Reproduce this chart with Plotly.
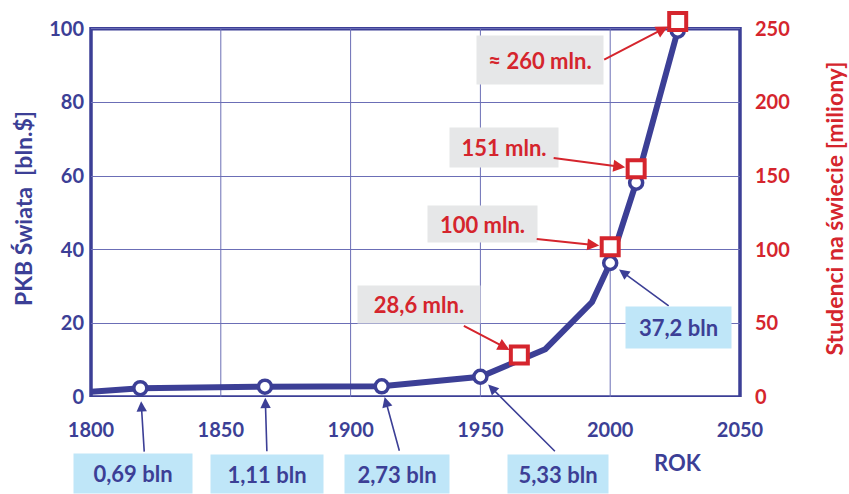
import plotly.graph_objects as go

# ---- data ----
gdp_years = [1800, 1819, 1867, 1912, 1950, 1975, 1993, 2000, 2010, 2026]
gdp_values = [1.4, 2.4, 2.8, 2.9, 5.5, 13.0, 25.8, 36.4, 58.2, 99.5]
gdp_circle = [False, True, True, True, True, False, False, True, True, True]

stud_years = [1965, 2000, 2010, 2026]
stud_values = [28.5, 102, 155, 255]
stud_labels = ["28,6 mln.", "100 mln.", "151 mln.", "\u2248 260 mln."]

pop_years = [1819, 1867, 1912, 1950, 2000]
pop_gdp = [2.4, 2.8, 2.9, 5.5, 36.4]
pop_labels = ["0,69 bln", "1,11 bln", "2,73 bln", "5,33 bln", "37,2 bln"]

x_ticks = [1800, 1850, 1900, 1950, 2000, 2050]
y_ticks = [0, 20, 40, 60, 80, 100]
y2_ticks = [0, 50, 100, 150, 200, 250]

BLUE = "#3c3f96"
RED = "#d5252d"
GRID = "#6b6eb6"
GRAYBOX = "#e6e7e8"
BLUEBOX = "#bfe6f8"
FONT = "Lato"

# axis ranges: a little head-room above the frame so the top square is drawn
Y_MAX = 102.4
Y2_MAX = 256

fig = go.Figure()
fig.add_trace(go.Scatter(x=gdp_years, y=gdp_values, mode="lines",
                         line=dict(color=BLUE, width=6), hoverinfo="skip",
                         showlegend=False, cliponaxis=False))
cx = [x for x, c in zip(gdp_years, gdp_circle) if c]
cy = [y for y, c in zip(gdp_values, gdp_circle) if c]
fig.add_trace(go.Scatter(x=cx, y=cy, mode="markers",
                         marker=dict(symbol="circle", size=13, color="white",
                                     line=dict(color=BLUE, width=3.5)),
                         showlegend=False, cliponaxis=False))
fig.add_trace(go.Scatter(x=stud_years, y=stud_values, mode="markers", yaxis="y2",
                         marker=dict(symbol="square", size=17, color="white",
                                     line=dict(color=RED, width=4)),
                         showlegend=False, cliponaxis=False))

# plot-area pixel geometry (margins)
L, R, T, B = 91, 109, 20, 97
W, H = 849, 494
PW, PH = W - L - R, H - T - B


def px2paper(px, py):
    return (px - L) / PW, (H - B - py) / PH


annotations = []

# red (students) boxes and arrows
red_boxes = [(419, 304.5, 122, 37), (482.5, 224, 109, 36), (504, 147.5, 108, 39), (540, 60, 126, 48)]
red_tails = [(-57, -30), (-75, -8), (-84, -11), (-75, 39)]
for (bx, by, bw, bh), lab, yr, v, (ax, ay) in zip(red_boxes, stud_labels, stud_years, stud_values, red_tails):
    xp, yp = px2paper(bx, by)
    annotations.append(dict(xref="paper", yref="paper", x=xp, y=yp, text=lab, showarrow=False,
                            bgcolor=GRAYBOX, width=bw, height=bh, borderpad=0,
                            xanchor="center", yanchor="middle",
                            font=dict(family=FONT, size=22, color=RED, weight="bold")))
    annotations.append(dict(xref="x", yref="y2", x=yr, y=v, text="", showarrow=True,
                            ax=ax, ay=ay, axref="pixel", ayref="pixel",
                            arrowhead=2, arrowsize=1.2, arrowwidth=2, arrowcolor=RED, standoff=11))

# blue (population) boxes and arrows
blue_boxes = [(133, 473.5, 118, 39), (267, 474, 112, 38), (397, 474, 104, 38), (558, 474, 100, 38), (678.5, 327.5, 105, 41)]
blue_tails = [(4, 65), (2, 66), (18, 66), (76, 76), (60, 44)]
blue_stand = [13, 11, 11, 11, 11]
for (bx, by, bw, bh), lab, yr, v, (ax, ay), so in zip(blue_boxes, pop_labels, pop_years, pop_gdp, blue_tails, blue_stand):
    xp, yp = px2paper(bx, by)
    annotations.append(dict(xref="x", yref="y", x=yr, y=v, text="", showarrow=True,
                            ax=ax, ay=ay, axref="pixel", ayref="pixel",
                            arrowhead=2, arrowsize=1.3, arrowwidth=1.6, arrowcolor=BLUE, standoff=so))
    annotations.append(dict(xref="paper", yref="paper", x=xp, y=yp, text=lab, showarrow=False,
                            bgcolor=BLUEBOX, width=bw, height=bh, borderpad=0,
                            xanchor="center", yanchor="middle",
                            font=dict(family=FONT, size=22, color=BLUE, weight="bold")))

xp, yp = px2paper(678, 462)
annotations.append(dict(xref="paper", yref="paper", x=xp, y=yp, text="ROK", showarrow=False,
                        xanchor="center", yanchor="middle",
                        font=dict(family=FONT, size=22, color=BLUE, weight="bold")))

# frame and vertical grid lines (limited to 0..100)
shapes = [dict(type="line", xref="x", yref="y", x0=t, x1=t, y0=0, y1=y_ticks[-1],
               line=dict(color=GRID, width=1), layer="between")
          for t in x_ticks[1:-1]]
shapes.append(dict(type="rect", xref="paper", yref="y", x0=0, x1=1, y0=0, y1=y_ticks[-1],
                   line=dict(color=BLUE, width=3.5), fillcolor="rgba(0,0,0,0)", layer="between"))

fig.update_layout(
    width=W, height=H,
    margin=dict(l=L, r=R, t=T, b=B, autoexpand=False),
    paper_bgcolor="white", plot_bgcolor="white",
    font=dict(family=FONT, size=20, color=BLUE, weight="bold"),
    showlegend=False,
    xaxis=dict(range=[1800, 2050], tickvals=x_ticks, showgrid=False,
               zeroline=False, showline=False,
               ticks="outside", ticklen=7, tickcolor="rgba(0,0,0,0)", ticklabelstandoff=8,
               tickfont=dict(family=FONT, size=20, color=BLUE, weight="bold")),
    yaxis=dict(range=[0, Y_MAX], tickvals=y_ticks, showgrid=True, gridcolor=GRID, gridwidth=1,
               zeroline=False, showline=False,
               ticks="", ticklabelstandoff=6,
               tickfont=dict(family=FONT, size=20, color=BLUE, weight="bold"),
               title=dict(text="PKB Świata \u00a0[bln.$]", standoff=10,
                          font=dict(family=FONT, size=23, color=BLUE, weight="bold"))),
    yaxis2=dict(range=[0, Y2_MAX], tickvals=y2_ticks, overlaying="y", side="right", showgrid=False,
                zeroline=False, showline=False, ticks="", ticklabelstandoff=14,
                tickfont=dict(family=FONT, size=20, color=RED, weight="bold"),
                title=dict(text="Studenci na świecie [miliony]", standoff=37,
                           font=dict(family=FONT, size=23, color=RED, weight="bold"))),
    shapes=shapes,
    annotations=annotations,
)

fig.write_html("out.html")
